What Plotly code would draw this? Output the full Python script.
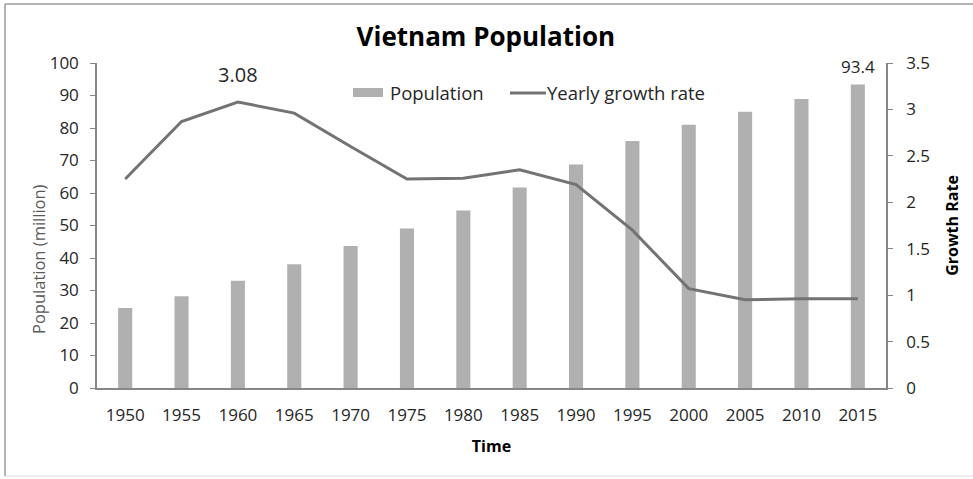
import plotly.graph_objects as go

# Vietnam population and yearly growth rate, 1950-2015
years = ["1950", "1955", "1960", "1965", "1970", "1975", "1980",
         "1985", "1990", "1995", "2000", "2005", "2010", "2015"]
population = [24.6, 28.2, 33.0, 38.1, 43.7, 49.1, 54.6,
              61.7, 68.8, 76.0, 81.0, 85.0, 88.9, 93.4]
growth_rate = [2.25, 2.87, 3.08, 2.96, 2.60, 2.25, 2.26,
               2.35, 2.19, 1.70, 1.07, 0.95, 0.96, 0.96]

W, H = 973, 479
L, R, T, B = 97, 87, 63, 91
pw, ph = W - L - R, H - T - B

def px(x):
    return (x - L) / pw

def py(y):
    return (H - B - y) / ph

FONT = "Open Sans"
TXT = "#262626"
BAR_COLOR = "#b0b0b0"
LINE_COLOR = "#737373"

fig = go.Figure()
fig.add_trace(go.Bar(
    x=years, y=population, name="Population",
    marker=dict(color=BAR_COLOR, line=dict(width=0)),
    yaxis="y", showlegend=False,
))
fig.add_trace(go.Scatter(
    x=years, y=growth_rate, name="Yearly growth rate",
    mode="lines", line=dict(color=LINE_COLOR, width=3),
    yaxis="y2", showlegend=False,
))

# value labels
peak = growth_rate.index(max(growth_rate))
fig.add_annotation(x=peak, y=growth_rate[peak], xref="x", yref="y2",
                   text=f"{growth_rate[peak]:.2f}", showarrow=False,
                   yshift=12, yanchor="bottom",
                   font=dict(family=FONT, size=20, color=TXT))
fig.add_annotation(x=len(years) - 1, y=population[-1], xref="x", yref="y",
                   text=f"{population[-1]}", showarrow=False,
                   yshift=4, yanchor="bottom",
                   font=dict(family=FONT, size=17, color=TXT))

# legend drawn as swatches + labels
fig.add_shape(type="rect", xref="paper", yref="paper",
              x0=px(353), x1=px(383), y0=py(97), y1=py(88),
              fillcolor=BAR_COLOR, line=dict(width=0))
fig.add_annotation(xref="paper", yref="paper", x=px(388), y=py(92),
                   xanchor="left", yanchor="middle", showarrow=False,
                   text="Population",
                   font=dict(family=FONT, size=18.5, color=TXT))
fig.add_shape(type="line", xref="paper", yref="paper",
              x0=px(510), x1=px(546), y0=py(93), y1=py(93),
              line=dict(color=LINE_COLOR, width=3))
fig.add_annotation(xref="paper", yref="paper", x=px(545), y=py(92),
                   xanchor="left", yanchor="middle", showarrow=False,
                   text="Yearly growth rate",
                   font=dict(family=FONT, size=18.5, color=TXT))

# left axis title
fig.add_annotation(xref="paper", yref="paper", x=px(38), y=py(259),
                   xanchor="center", yanchor="middle", showarrow=False,
                   textangle=-90, text="Population (million)",
                   font=dict(family=FONT, size=16.5, color="#595959"))

# outer frame
fig.add_shape(type="line", xref="paper", yref="paper",
              x0=px(5), x1=px(5), y0=py(476), y1=py(4),
              line=dict(color="#9a9a9a", width=1.5))
fig.add_shape(type="line", xref="paper", yref="paper",
              x0=px(5), x1=px(975), y0=py(4), y1=py(4),
              line=dict(color="#9a9a9a", width=1.5))
fig.add_shape(type="line", xref="paper", yref="paper",
              x0=px(5), x1=px(975), y0=py(476), y1=py(476),
              line=dict(color="#d8d8d8", width=1))

axis_common = dict(
    showgrid=False, zeroline=False, showline=True,
    linecolor="#868686", linewidth=1.5,
    ticks="outside", ticklen=5, tickcolor="#868686",
    tickfont=dict(family=FONT, size=17, color=TXT),
)

fig.update_layout(
    width=W, height=H,
    margin=dict(l=L, r=R, t=T, b=B),
    plot_bgcolor="white", paper_bgcolor="white",
    bargap=0.75,
    showlegend=False,
    title=dict(text="<b>Vietnam Population</b>", x=px(491), xanchor="center",
               y=1 - 37 / H, yanchor="middle",
               font=dict(family=FONT, size=26, color="black")),
    xaxis=dict(
        type="category", categoryorder="array", categoryarray=years,
        range=[-0.5, len(years) - 0.5], autorange=False,
        showgrid=False, zeroline=False, showline=True,
        linecolor="#868686", linewidth=1.5,
        ticks="outside", ticklen=11, tickcolor="rgba(0,0,0,0)",
        tickfont=dict(family=FONT, size=17, color=TXT),
        title=dict(text="<b>Time</b>", standoff=16,
                   font=dict(family=FONT, size=16, color="black")),
    ),
    yaxis=dict(
        range=[0, 100], dtick=10, ticklabelstandoff=8, **axis_common,
    ),
    yaxis2=dict(
        range=[0, 3.5], dtick=0.5, overlaying="y", side="right",
        ticklabelstandoff=10, **axis_common,
        title=dict(text="<b>Growth Rate</b>", standoff=18,
                   font=dict(family=FONT, size=16, color="black")),
    ),
)

fig.write_html("out.html")
